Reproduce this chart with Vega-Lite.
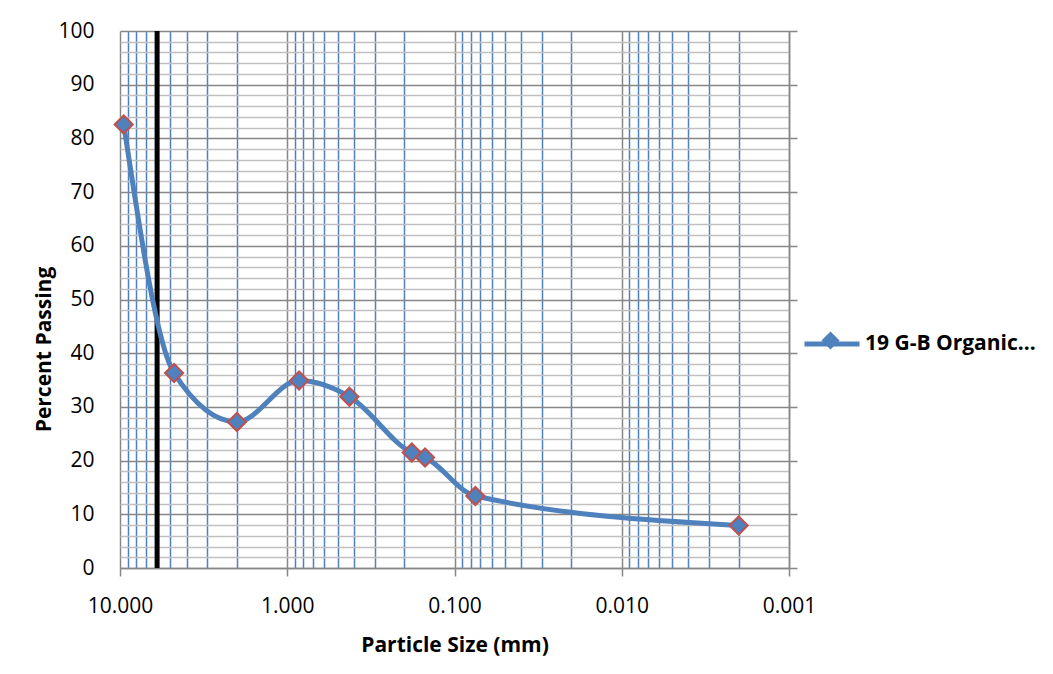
{
  "$schema": "https://vega.github.io/schema/vega-lite/v6.json",
  "width": 669,
  "height": 537,
  "autosize": {"type": "none"},
  "padding": {"left": 120, "top": 31, "right": 264, "bottom": 106},
  "background": "white",
  "config": {
    "view": {"stroke": null},
    "font": "Open Sans",
    "axis": {"labelFont": "Open Sans", "titleFont": "Open Sans", "labelColor": "#000000", "titleColor": "#000000"},
    "legend": {"labelFont": "Open Sans", "labelColor": "#000000"}
  },
  "resolve": {"axis": {"y": "independent"}},
  "encoding": {
    "x": {
      "field": "size", "type": "quantitative",
      "scale": {"type": "log", "domain": [0.001, 10], "reverse": true, "nice": false},
      "axis": {
        "values": [10, 9, 8, 7, 6, 5, 4, 3, 2, 1, 0.9, 0.8, 0.7, 0.6, 0.5, 0.4, 0.3, 0.2, 0.1, 0.09, 0.08, 0.07, 0.06, 0.05, 0.04, 0.03, 0.02, 0.01, 0.009, 0.008, 0.007, 0.006, 0.005, 0.004, 0.003, 0.002, 0.001],
        "grid": true,
        "gridColor": {"condition": {"test": "abs(log(datum.value)/LN10 - round(log(datum.value)/LN10)) < 0.001", "value": "#878787"}, "value": "#4F81BD"},
        "gridWidth": 1.5,
        "ticks": true,
        "tickSize": 8,
        "tickWidth": 1.5,
        "tickColor": {"condition": {"test": "abs(log(datum.value)/LN10 - round(log(datum.value)/LN10)) < 0.001", "value": "#878787"}, "value": "transparent"},
        "domain": true,
        "domainColor": "#878787",
        "domainWidth": 1.5,
        "labelExpr": "abs(log(datum.value)/LN10 - round(log(datum.value)/LN10)) < 0.001 ? format(datum.value, '.3f') : ''",
        "labelFlush": false,
        "labelOverlap": false,
        "labelPadding": 19,
        "labelFontSize": 21,
        "title": "Particle Size (mm)",
        "titleFontSize": 21,
        "titleFontWeight": "bold",
        "titleY": 83,
        "titleBaseline": "alphabetic"
      }
    }
  },
  "layer": [
    {
      "data": {"values": [{"size": 6}]},
      "mark": {"type": "rule", "color": "#000000", "strokeWidth": 5}
    },
    {
      "data": {"name": "pts", "values": [
        {"size": 9.5, "passing": 82.6, "series": "19 G-B Organic…", "key": "19 G-B Organic…"},
        {"size": 4.75, "passing": 36.3, "series": "19 G-B Organic…", "key": "19 G-B Organic…"},
        {"size": 2.0, "passing": 27.2, "series": "19 G-B Organic…", "key": "19 G-B Organic…"},
        {"size": 0.85, "passing": 34.9, "series": "19 G-B Organic…", "key": "19 G-B Organic…"},
        {"size": 0.425, "passing": 31.9, "series": "19 G-B Organic…", "key": "19 G-B Organic…"},
        {"size": 0.18, "passing": 21.5, "series": "19 G-B Organic…", "key": "19 G-B Organic…"},
        {"size": 0.15, "passing": 20.6, "series": "19 G-B Organic…", "key": "19 G-B Organic…"},
        {"size": 0.075, "passing": 13.4, "series": "19 G-B Organic…", "key": "19 G-B Organic…"},
        {"size": 0.002, "passing": 7.9, "series": "19 G-B Organic…", "key": "19 G-B Organic…"}
      ]},
      "mark": {"type": "line", "interpolate": "monotone", "strokeWidth": 5},
      "encoding": {
        "y": {
          "field": "passing", "type": "quantitative",
          "scale": {"domain": [0, 100], "nice": false},
          "axis": {
            "orient": "left",
            "values": [0, 2, 4, 6, 8, 10, 12, 14, 16, 18, 20, 22, 24, 26, 28, 30, 32, 34, 36, 38, 40, 42, 44, 46, 48, 50, 52, 54, 56, 58, 60, 62, 64, 66, 68, 70, 72, 74, 76, 78, 80, 82, 84, 86, 88, 90, 92, 94, 96, 98, 100],
            "grid": true,
            "gridColor": {"condition": {"test": "datum.value % 10 === 0", "value": "#878787"}, "value": "#C0C0C0"},
            "gridWidth": 1.5,
            "ticks": false,
            "tickSize": 0,
            "domain": false,
            "labelExpr": "datum.value % 10 === 0 ? datum.label : ''",
            "labelOverlap": false,
            "labelFlush": false,
            "labelPadding": 26,
            "labelFontSize": 21,
            "title": "Percent Passing",
            "titleFontSize": 21,
            "titleFontWeight": "bold",
            "titleX": -76,
            "titleY": 318,
            "titleAngle": 270,
            "titleAlign": "center",
            "titleBaseline": "middle"
          }
        },
        "stroke": {
          "field": "series", "type": "nominal",
          "scale": {"range": ["#4F81BD"]},
          "legend": {
            "orient": "none", "legendX": 682, "legendY": 283,
            "title": null, "padding": 0,
            "symbolType": "stroke", "symbolSize": 3025, "symbolStrokeWidth": 5,
            "labelFontSize": 21, "labelFontWeight": "bold", "labelOffset": 3, "labelLimit": 400
          }
        }
      }
    },
    {
      "data": {"name": "pts"},
      "mark": {"type": "point", "filled": true, "size": 330, "fill": "#4F81BD", "stroke": "#C0504D", "strokeWidth": 2, "opacity": 1},
      "encoding": {
        "y": {
          "field": "passing", "type": "quantitative", "scale": {"domain": [0, 100], "nice": false},
          "axis": {
            "orient": "right",
            "values": [0, 10, 20, 30, 40, 50, 60, 70, 80, 90, 100],
            "grid": false, "labels": false,
            "ticks": true, "tickSize": 8, "tickWidth": 1.5, "tickColor": "#878787",
            "domain": true, "domainColor": "#878787", "domainWidth": 1.5,
            "title": null
          }
        },
        "shape": {
          "field": "key", "type": "nominal",
          "scale": {"range": ["diamond"]},
          "legend": {
            "orient": "none", "legendX": 700, "legendY": 299,
            "title": null, "padding": 0,
            "symbolType": "diamond", "symbolSize": 330,
            "symbolFillColor": "#4F81BD", "symbolStrokeColor": "#C0504D", "symbolStrokeWidth": 2,
            "labelFontSize": 20, "labelExpr": "''", "labelLimit": 400
          }
        }
      }
    }
  ]
}
